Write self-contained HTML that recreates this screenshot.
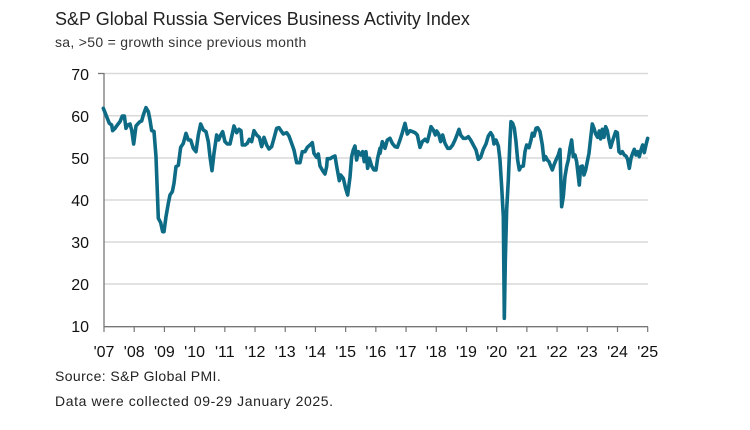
<!DOCTYPE html>
<html><head><meta charset="utf-8"><style>
body{margin:0;background:#fff;}
svg{display:block;font-family:"Liberation Sans",sans-serif;}
</style></head><body>
<svg width="750" height="430" viewBox="0 0 750 430">
<text x="55" y="25" font-size="18" fill="#222">S&amp;P Global Russia Services Business Activity Index</text>
<text x="55" y="47" font-size="14" fill="#333" letter-spacing="0.3">sa, &gt;50 = growth since previous month</text>
<g stroke="#d9d9d9" stroke-width="1.5">
<line x1="104" x2="648" y1="73.5" y2="73.5"/><line x1="104" x2="648" y1="115.7" y2="115.7"/>
<line x1="104" x2="648" y1="158" y2="158"/><line x1="104" x2="648" y1="200" y2="200"/>
<line x1="104" x2="648" y1="242" y2="242"/><line x1="104" x2="648" y1="284" y2="284"/>
</g>
<g stroke="#777" stroke-width="1.3">
<line x1="104" x2="104" y1="73" y2="327"/><line x1="98" x2="104" y1="73.5" y2="73.5"/>
<line x1="104" x2="648" y1="326.7" y2="326.7"/>
</g>
<g stroke="#777" stroke-width="1.2" id="ticks"></g>
<g font-size="16" fill="#111" text-anchor="end">
<text x="89" y="80">70</text><text x="89" y="122">60</text><text x="89" y="164">50</text><text x="89" y="206">40</text><text x="89" y="248">30</text><text x="89" y="290">20</text><text x="89" y="332">10</text>
</g>
<g font-size="16" fill="#111" text-anchor="middle" id="xl"></g>
<g fill="none" stroke="#0e6b85" stroke-width="3.6" stroke-linejoin="round" stroke-linecap="round">
<polyline vector-effect="non-scaling-stroke" transform="translate(90,60) scale(0.3333)" points="40,145 50,170 58,190 65,195 68,212 75,205 82,195 90,185 97,168 103,168 108,205 113,195 120,192 125,210 131,252 138,198 145,190 150,185 155,183 160,165 168,143 175,155 180,180 185,212 192,214 198,290 205,475 212,488 218,515 222,515 228,470 235,430 240,405 247,395 252,370 258,320 265,316 272,262 280,250 288,220 295,240 302,240 310,265 318,275 325,225 332,192 340,210 348,215 355,245 360,290 366,332 372,280 380,225 386,240 392,225 398,215 405,245 412,252 420,252 425,230 432,198 440,218 447,208 453,212 457,255 465,255 472,250 478,238 485,245 492,212 500,225 508,232 515,260 522,232 530,255 537,267 545,260 552,235 560,205 567,203 573,212 580,222 590,218 597,228 605,250 612,270 620,308 630,308 637,275 645,275 652,262 660,255 667,248 672,280 680,292 685,282 690,318 698,332 705,342 710,320 712,296 720,296 730,290 735,288 740,318 748,362 752,345 760,355 767,385 773,405 780,352 785,290 790,270 795,258 800,300 805,275 812,285 818,275 823,305 828,275 833,325 838,295 845,318 852,330 858,330 863,295 870,265"/>
<polyline vector-effect="non-scaling-stroke" transform="translate(370,60) scale(0.3333)" points="30,280 37,245 45,265 52,240 60,235 67,250 75,260 82,262 90,240 97,218 105,190 112,222 120,212 128,215 135,218 142,225 150,262 157,245 165,238 172,245 178,222 183,200 190,210 196,225 200,213 206,222 212,245 218,225 225,250 233,265 240,265 248,255 255,240 262,222 267,208 272,225 280,235 288,235 295,230 302,240 310,255 318,270 325,298 332,292 340,268 348,252 355,228 362,218 368,228 372,252 378,240 385,258 390,300 395,380 400,470 403,775 406,600 410,450 415,360 420,240 423,185 428,190 433,205 438,245 443,300 448,330 453,320 460,318 465,275 470,255 477,263 483,240 487,220 492,228 498,205 503,203 510,215 517,255 522,300 527,290 532,300 537,305 542,318 547,330 552,315 558,300 565,285 570,268 575,440 580,410 585,350 590,320 595,300 600,265 605,240 610,290 615,285 620,305 628,375 632,320 637,318 642,345 647,330 652,305 657,280 662,235 667,192 672,205 677,222 683,232 688,213 692,237 697,208 702,232 707,200 712,212 717,240 722,262 727,245 732,230 737,215 742,218 747,275 752,280 757,275 763,285 768,288 773,298 778,325 783,295 788,280 793,268 798,285 803,275 808,290 813,270 818,255 823,278 828,255 833,235"/>
</g>
<text x="55" y="381" font-size="14" fill="#222" letter-spacing="0.4">Source: S&amp;P Global PMI.</text>
<text x="55" y="406" font-size="14" fill="#222" letter-spacing="0.6">Data were collected 09-29 January 2025.</text>
<script>
var t=document.getElementById('ticks'),xl=document.getElementById('xl'),ns='http://www.w3.org/2000/svg';
for(var i=0;i<=18;i++){var x=104+i*(543.7/18);
var l=document.createElementNS(ns,'line');l.setAttribute('x1',x);l.setAttribute('x2',x);l.setAttribute('y1',326.7);l.setAttribute('y2',332);t.appendChild(l);
var s=document.createElementNS(ns,'text');s.setAttribute('x',x);s.setAttribute('y',357);s.textContent="'"+String(7+i).padStart(2,'0');xl.appendChild(s);}
</script>
</svg>
</body></html>
